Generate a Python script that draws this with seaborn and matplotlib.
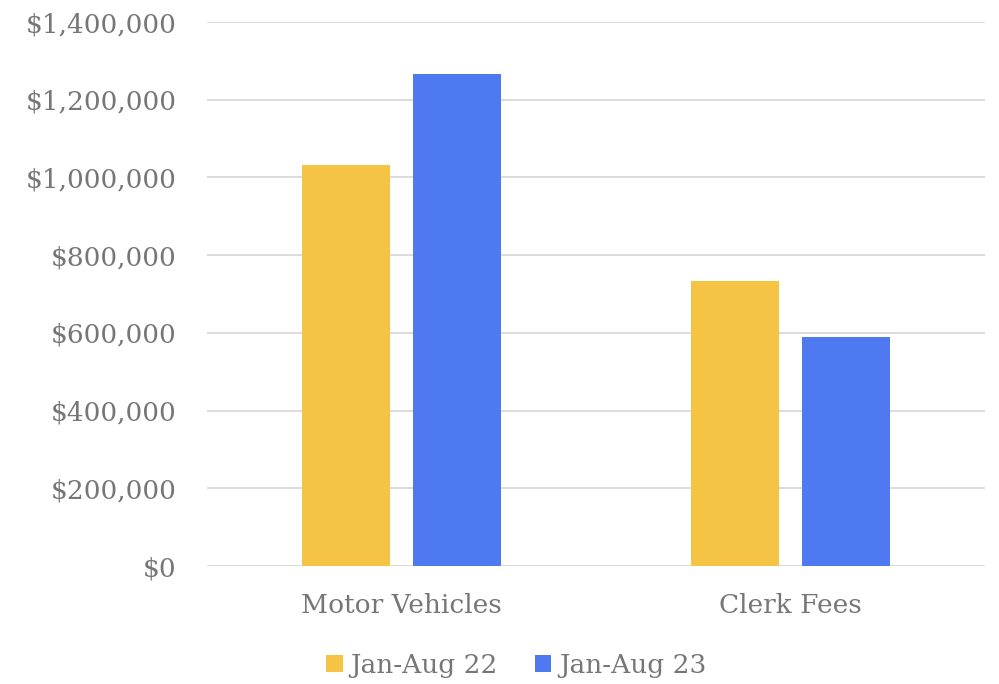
import matplotlib
matplotlib.use("Agg")
import matplotlib.pyplot as plt
import seaborn as sns
import pandas as pd
from matplotlib.ticker import FuncFormatter
from matplotlib.patches import Patch

categories = ["Motor Vehicles", "Clerk Fees"]
series_names = ["Jan-Aug 22", "Jan-Aug 23"]
jan_aug_22 = [1032000, 733000]
jan_aug_23 = [1266000, 589000]
colors = ["#F6C445", "#4E79F0"]

df = pd.DataFrame({
    "category": categories * 2,
    "series": [series_names[0]] * 2 + [series_names[1]] * 2,
    "value": jan_aug_22 + jan_aug_23,
})

sns.set_style("white")
text_color = "#767676"
font = "DejaVu Serif"
fig = plt.figure(figsize=(9.99, 6.84), dpi=100)
ax = fig.add_axes([207/999, 1-566/684, (985-207)/999, (566-22)/684])

sns.barplot(data=df, x="category", y="value", hue="series", order=categories,
            hue_order=series_names, palette=colors, width=0.5707, gap=0.216,
            ax=ax, legend=False, saturation=1, linewidth=0)

ax.set_ylim(0, 1400000)
ax.set_xlim(-0.5, 1.5)
ax.set_yticks(range(0, 1400001, 200000))
ax.yaxis.set_major_formatter(FuncFormatter(lambda v, p: "${:,.0f}".format(v)))
ax.grid(axis="y", color="#D9D9D9", linewidth=1.3)
ax.set_axisbelow(True)
for s in ax.spines.values():
    s.set_visible(False)
ax.tick_params(axis="both", length=0)
ax.tick_params(axis="y", pad=22, labelcolor=text_color)
ax.tick_params(axis="x", pad=19.5, labelcolor=text_color)
for t in ax.get_yticklabels():
    t.set_fontfamily(font)
    t.set_fontsize(19)
for t in ax.get_xticklabels():
    t.set_fontfamily(font)
    t.set_fontsize(19)
ax.set_xlabel("")
ax.set_ylabel("")

handles = [Patch(facecolor=c, edgecolor="none") for c in colors]
leg = fig.legend(handles, series_names, loc="center", bbox_to_anchor=(0.517, 1-665/684),
                 ncol=2, frameon=False, handlelength=0.62, handleheight=0.62,
                 handletextpad=0.3, columnspacing=1.4,
                 prop={"family": font, "size": 19})
for t in leg.get_texts():
    t.set_color(text_color)

fig.savefig("out.png", dpi=100)
